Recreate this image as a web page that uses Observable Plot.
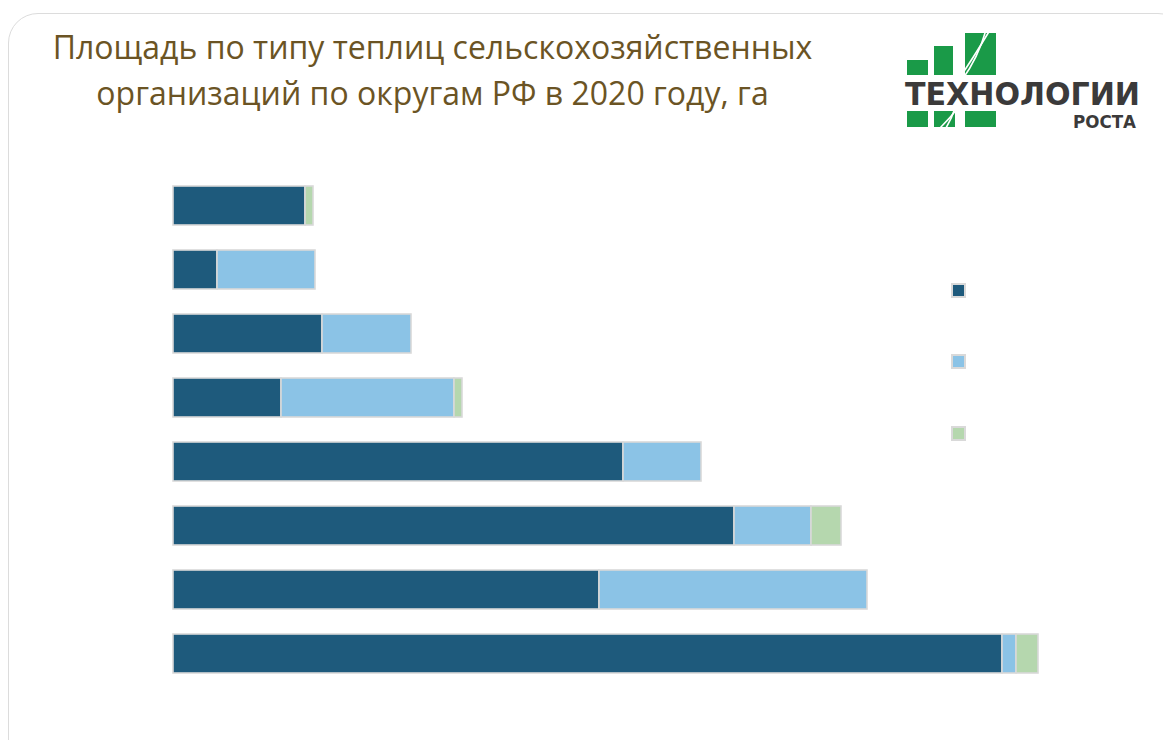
<!DOCTYPE html>
<html><head><meta charset="utf-8">
<script src="https://cdn.jsdelivr.net/npm/d3@7"></script>
<script src="https://cdn.jsdelivr.net/npm/@observablehq/plot@0.6"></script>
<style>
html,body{margin:0;padding:0;background:#fff;width:1163px;height:740px;overflow:hidden;}
#card{position:absolute;left:8px;top:13px;width:1180px;height:780px;border:1.5px solid #dcdcdc;border-radius:30px;box-sizing:border-box;}
#title{position:absolute;left:0;width:865px;top:24px;text-align:center;font-family:"Open Sans","Noto Sans",sans-serif;font-size:32px;line-height:46px;color:#6b5424;}
#chart{position:absolute;left:0;top:0;}
#logo{position:absolute;left:0;top:0;}
.sw{position:absolute;width:11px;height:11px;border:2px solid #d9d9d9;}
</style></head>
<body>
<div id="card"></div>
<div id="title">Площадь по типу теплиц сельскохозяйственных<br>организаций по округам РФ в 2020 году, га</div>
<svg id="logo" width="1163" height="140">
  <g fill="#1a9a48">
    <rect x="907" y="60" width="21" height="15"/>
    <rect x="934" y="46" width="19" height="29"/>
    <rect x="965" y="33" width="31" height="42"/>
    <rect x="907" y="111" width="21" height="16"/>
    <rect x="934" y="111" width="21" height="16"/>
    <rect x="965" y="111" width="31" height="16"/>
  </g>
  <g stroke="#fff" stroke-width="1.6" fill="none">
    <path d="M958 80 Q972 60 990 30"/>
    <path d="M962 80 Q978 58 986 30"/>
    <path d="M940 128 Q950 118 958 108"/>
    <path d="M946 128 Q952 118 955 108"/>
  </g>
  <text x="905" y="105" textLength="235" lengthAdjust="spacingAndGlyphs" font-family="'DejaVu Sans Condensed','DejaVu Sans',sans-serif" font-weight="bold" font-size="32" fill="#3b3a3a">ТЕХНОЛОГИИ</text>
  <text x="1073" y="128" textLength="63" lengthAdjust="spacingAndGlyphs" font-family="'DejaVu Sans Condensed','DejaVu Sans',sans-serif" font-weight="bold" font-size="17" fill="#3b3a3a">РОСТА</text>
</svg>
<div id="chart"></div>
<div id="legend"></div>
<script>
const districts = ["ДФО","СКФО","СЗФО","СФО","УФО","ЮФО","ПФО","ЦФО"];
const seriesNames = ["Зимние","Весенние","Прочие"];
const seriesColors = ["#1e5a7c","#8bc3e6","#b5d7ae"];
const winter = [132, 44, 149, 108, 450, 561, 426, 829];
const spring = [0, 98, 89, 173, 78, 77, 268, 14];
const other  = [8, 0, 0, 8, 0, 30, 0, 22];

const rows = [];
districts.forEach((d, i) => {
  [winter, spring, other].forEach((arr, j) => {
    if (arr[i] > 0) rows.push({district: d, type: seriesNames[j], value: arr[i]});
  });
});

const chart = Plot.plot({
  width: 1163,
  height: 740,
  margin: 0,
  x: {domain: [0, 865], range: [173, 1038], axis: null},
  y: {domain: districts, range: [158.5, 699.4], padding: 0.395, axis: null},
  color: {domain: seriesNames, range: seriesColors},
  marks: [
    Plot.barX(rows, Plot.stackX({
      x: "value", y: "district", fill: "type", order: seriesNames,
      stroke: "#d9d9d9", strokeWidth: 1.6
    }))
  ]
});
chart.style.background = "transparent";
document.getElementById("chart").appendChild(chart);

const legendTops = [283, 354, 426];
const lg = document.getElementById("legend");
seriesColors.forEach((c, i) => {
  const s = document.createElement("div");
  s.className = "sw";
  s.style.left = "951px";
  s.style.top = legendTops[i] + "px";
  s.style.background = c;
  lg.appendChild(s);
});
</script>
</body></html>
